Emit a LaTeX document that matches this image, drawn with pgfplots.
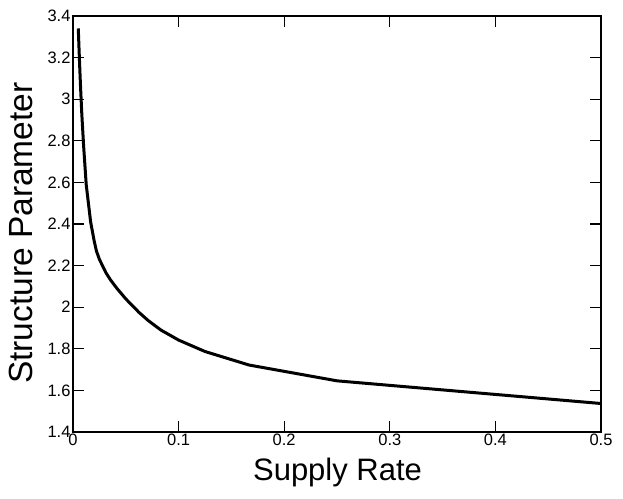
\documentclass[border=0pt]{standalone}
\usepackage{fontspec}
\setmainfont{Liberation Sans}
\usepackage{pgfplots}
\pgfplotsset{compat=1.18}
\begin{document}
\begin{tikzpicture}
\begin{axis}[
    scale only axis,
    width=528pt, height=416pt,
    xmin=0, xmax=0.5,
    ymin=1.4, ymax=3.4,
    xtick={0,0.1,0.2,0.3,0.4,0.5},
    xticklabels={0,0.1,0.2,0.3,0.4,0.5},
    ytick={1.4,1.6,1.8,2,2.2,2.4,2.6,2.8,3,3.2,3.4},
    yticklabels={1.4,1.6,1.8,2,2.2,2.4,2.6,2.8,3,3.2,3.4},
    tick align=inside,
    major tick length=11pt,
    tick style={line width=1.2pt, black},
    axis line style={line width=1.2pt},
    xticklabel style={font=\fontsize{16.5}{18}\selectfont, yshift=2pt},
    yticklabel style={font=\fontsize{16.5}{18}\selectfont, xshift=1pt},
    xlabel={Supply Rate},
    ylabel={Structure Parameter},
    xlabel style={font=\fontsize{31}{34}\selectfont,
        at={(axis description cs:0.501,-0.1154)}, anchor=base},
    ylabel style={font=\fontsize{33.5}{36}\selectfont,
        at={(axis description cs:-0.0758,0.478)}, anchor=base},
]
\addplot[black, line width=3pt] coordinates {
  (0.005, 3.34)
  (0.00625, 3.17)
  (0.00714, 3.06)
  (0.00833, 2.93)
  (0.01, 2.78)
  (0.0125, 2.59)
  (0.0167, 2.41)
  (0.02, 2.32)
  (0.0222, 2.27)
  (0.025, 2.23)
  (0.03125, 2.165)
  (0.0357, 2.13)
  (0.04167, 2.09)
  (0.05, 2.04)
  (0.0625, 1.975)
  (0.0714, 1.935)
  (0.0833, 1.89)
  (0.1, 1.842)
  (0.125, 1.787)
  (0.1667, 1.722)
  (0.25, 1.646)
  (0.5, 1.537)
};
\end{axis}
\path (-73pt,-66pt) rectangle (550pt,432pt);
\end{tikzpicture}
\end{document}
